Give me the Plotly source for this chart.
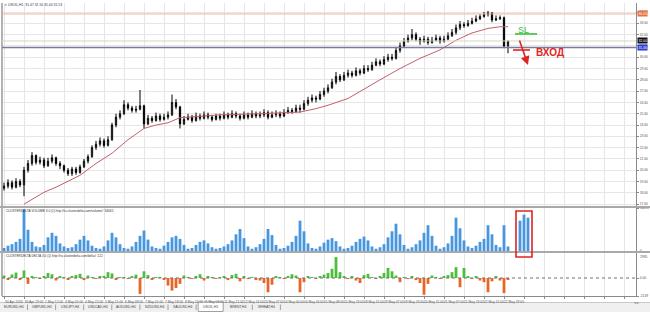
import plotly.graph_objects as go
from plotly.subplots import make_subplots

# ---------------- data ----------------
first_open = 19.0
close = [19.2,19.5,19.1,19.6,19.3,20.6,21.2,21.9,21.3,21.5,
         21.0,21.4,21.7,21.2,21.0,20.6,20.3,20.7,20.4,20.9,
         21.4,21.8,22.6,22.9,23.2,22.8,23.3,24.6,25.3,25.6,
         26.4,26.1,25.9,26.0,26.3,24.7,25.2,25.0,25.4,25.1,
         25.3,25.5,26.6,26.2,24.7,25.1,25.3,25.0,25.4,25.2,
         25.5,25.3,25.1,25.4,25.2,25.5,25.3,25.6,25.4,25.2,
         25.5,25.3,25.6,25.4,25.5,25.7,25.3,25.5,25.6,25.4,
         25.7,25.9,25.8,26.1,26.0,26.5,26.8,27.0,26.9,27.3,
         27.6,27.9,28.4,28.9,28.6,29.0,29.2,29.0,29.4,29.2,
         29.6,29.5,29.9,30.2,30.0,30.4,30.6,30.5,31.2,31.6,
         32.0,32.3,32.6,32.2,32.0,32.2,31.9,32.1,32.3,32.0,
         32.2,32.5,32.8,33.2,33.5,33.4,33.6,33.8,34.0,34.2,
         34.4,34.5,33.9,34.0,34.1,31.6,32.0]
high = [19.5,19.8,19.7,19.9,19.8,20.9,21.5,22.2,22.0,21.8,
        21.7,21.7,22.0,21.8,21.4,21.1,20.8,20.9,20.9,21.1,
        21.6,22.0,22.8,23.2,23.5,23.4,23.6,24.8,25.6,25.9,
        26.8,26.6,26.3,26.3,27.7,26.4,25.5,25.4,25.7,25.6,
        25.6,25.8,27.3,26.9,26.3,25.4,25.6,25.5,25.7,25.6,
        25.8,25.7,25.5,25.6,25.6,25.8,25.7,25.9,25.8,25.6,
        25.8,25.7,25.9,25.8,25.8,26.0,25.9,25.8,25.9,25.8,
        26.0,26.2,26.1,26.4,26.4,26.8,27.1,27.3,27.2,27.6,
        27.9,28.2,28.7,29.3,29.1,29.3,29.5,29.4,29.7,29.6,
        29.9,29.9,30.2,30.5,30.4,30.7,30.9,30.9,31.5,31.9,
        32.3,32.6,33.1,32.8,32.4,32.5,32.4,32.4,32.6,32.5,
        32.5,32.8,33.1,33.5,33.8,33.7,33.9,34.1,34.3,34.4,
        34.6,34.7,34.6,34.3,34.3,34.2,32.1]
low = [18.8,19.0,18.9,19.0,19.1,18.3,20.4,21.0,21.1,21.1,
       20.8,20.9,21.2,21.0,20.7,20.4,20.1,20.1,20.2,20.3,
       20.8,21.2,21.7,22.4,22.7,22.6,22.7,23.2,24.4,25.1,
       25.5,25.9,25.7,25.7,25.9,24.3,24.6,24.8,24.9,24.9,
       25.0,25.1,25.4,26.0,24.3,24.6,25.0,24.8,24.9,25.0,
       25.1,25.1,24.9,25.0,25.0,25.1,25.1,25.2,25.2,25.0,
       25.1,25.1,25.2,25.2,25.2,25.3,25.1,25.2,25.3,25.2,
       25.3,25.6,25.6,25.7,25.7,25.9,26.3,26.6,26.6,26.8,
       27.1,27.4,27.8,28.2,28.4,28.5,28.8,28.8,28.9,29.0,
       29.1,29.3,29.4,29.8,29.8,29.9,30.2,30.3,30.4,31.0,
       31.5,31.9,32.1,32.0,31.7,31.9,31.7,31.8,32.0,31.8,
       31.9,32.1,32.4,32.6,33.0,33.2,33.3,33.5,33.7,33.9,
       34.1,34.2,33.7,33.8,33.9,31.4,30.95]

ma_idx = [5, 8, 10, 13, 15, 19, 23, 27, 31, 35, 38, 41, 44, 49, 54, 64, 74, 78,
          81, 86, 90, 94, 99, 104, 109, 113, 117, 121, 124, 126]
ma_val = [17.6, 18.2, 18.65, 19.1, 19.45, 20.15, 21.2, 22.1, 23.3, 24.3, 24.6, 24.8,
          25.25, 25.4, 25.5, 25.6, 25.75, 26.05, 26.35, 26.95, 27.8, 28.6, 29.6,
          30.5, 31.25, 32.1, 32.75, 33.15, 33.3, 33.3]

volume = [4000,7000,9000,12000,16000,55000,28000,12000,6000,5000,
          8000,18000,24000,20000,10000,6000,4000,5000,9000,15000,
          20000,14000,7000,4000,3000,6000,14000,24000,18000,9000,
          4000,3000,6000,12000,20000,27000,15000,6000,4000,3000,
          7000,12000,18000,20000,16000,8000,3000,4000,8000,12000,
          14000,10000,5000,3000,4000,6000,9000,14000,22000,29000,
          17000,6000,3000,5000,9000,16000,29000,21000,8000,3000,
          4000,7000,12000,20000,40000,26000,10000,4000,3000,6000,
          11000,15000,17000,13000,6000,3000,4000,7000,12000,16000,
          19000,14000,6000,3000,5000,9000,18000,26000,36000,22000,
          8000,3000,5000,9000,14000,24000,34000,20000,7000,3000,
          5000,10000,20000,44000,30000,14000,6000,4000,7000,12000,
          16000,34000,22000,8000,5000,34000,6000,0,0,40000,48000,44000]

delta = [300,-150,420,650,-200,900,-700,250,120,-100,
         200,600,450,-300,150,80,-120,200,350,500,
         -250,300,100,-80,150,250,700,550,-200,120,
         60,-90,180,400,-1900,800,350,-150,90,120,
         -200,-900,-1500,-1200,-700,300,80,-60,250,450,
         -300,200,100,-80,120,200,-250,350,500,-400,
         150,-100,60,-150,-300,-600,-1700,-800,200,90,
         -100,250,450,300,-1700,-500,150,80,-90,200,
         400,600,1100,2500,700,150,-100,200,-300,-600,
         350,500,100,-80,150,600,1200,800,300,-500,
         100,-60,150,-250,-600,-2000,-700,300,80,-90,
         200,350,700,1300,-1100,1200,200,-100,150,-300,
         -500,-1700,-400,150,-300,-1800,-200]

time_labels = ["30 Apr 2020","30 Apr 19:00","1 May 12:00","4 May 05:00","4 May 22:00",
               "5 May 15:00","6 May 08:00","7 May 01:00","7 May 18:00","8 May 11:00",
               "11 May 04:00","11 May 21:00","12 May 14:00","13 May 07:00","14 May 00:00",
               "14 May 16:00","15 May 08:00","15 May 23:00","18 May 15:00","19 May 07:00",
               "19 May 23:00","20 May 15:00","21 May 07:00","21 May 23:00","22 May 15:00",
               "22 May 19:00"]

price_ticks = [17.6,18.6,19.6,20.6,21.6,22.6,23.6,24.6,25.6,26.6,27.6,28.6,29.6,30.6,31.6,32.6,33.6,34.6]
vol_max = 56433
delta_top, delta_bottom = 2985, -2149

level_orange = 34.43
level_bid = 32.04
level_blue = 31.46
sl_level = 32.66
entry_level = 31.24

tabs = ["EURUSD,H4","GBPUSD,H4","USDJPY,H4","USDCAD,H4","AUDUSD,H4",
        "NZDUSD,H4","XAUUSD,H4","USOIL,H1","BRENT,H4","WHEAT,H4"]
active_tab = "USOIL,H1"
title_text = "USOIL,H1  31.47 31.50 31.44 31.53"
vol_title = "CLUSTERDELTA VOLUME 3.0 (1) http://ru.clusterdelta.com/volume/: 34065"
delta_title = "CLUSTERDELTA DELTA 3.0 (1) http://ru.clusterdelta.com/delta/: 122"

# ---------------- figure ----------------
idx = list(range(len(close)))
opens = [first_open] + close[:-1]
vol_idx = list(range(len(volume)))

W, H = 650, 312
ML, MR, MT, MB = 2, 14, 3, 16
PW, PH = W - ML - MR, H - MT - MB
def px(x):  # pixel x -> paper
    return (x - ML) / PW
def py(y):  # pixel y -> paper
    return (H - MB - y) / PH

FONT = "Liberation Sans"
GRID = "#e6e6e6"
AXC = "#8a8a8a"
TXT = "#555555"

fig = make_subplots(rows=3, cols=1, shared_xaxes=True, vertical_spacing=0)

fig.add_trace(go.Candlestick(
    x=idx, open=opens, high=high, low=low, close=close,
    increasing=dict(line=dict(color="black", width=1), fillcolor="white"),
    decreasing=dict(line=dict(color="black", width=1), fillcolor="black"),
    whiskerwidth=0, showlegend=False, hoverinfo="skip"), row=1, col=1)
fig.add_trace(go.Scatter(x=ma_idx, y=ma_val, mode="lines",
                         line=dict(color="#c2606c", width=1), showlegend=False,
                         hoverinfo="skip"), row=1, col=1)
fig.add_trace(go.Bar(x=vol_idx, y=volume, width=0.7,
                     marker=dict(color="#4796e0", line=dict(width=0)),
                     showlegend=False, hoverinfo="skip"), row=2, col=1)
fig.add_trace(go.Bar(x=idx, y=delta, width=0.7,
                     marker=dict(color=["#4cbf3a" if d >= 0 else "#e8652a" for d in delta],
                                 line=dict(width=0)),
                     showlegend=False, hoverinfo="skip"), row=3, col=1)

xr = [-0.5, (PW / 4) - 0.5]
tickvals = list(range(0, 160, 5))
ticktext = time_labels + [""] * (len(tickvals) - len(time_labels))

common_x = dict(range=xr, tickvals=tickvals, showgrid=True, gridcolor=GRID, gridwidth=1,
                zeroline=False, fixedrange=True)
fig.update_layout(
    xaxis=dict(**common_x, showticklabels=False, showline=False, rangeslider=dict(visible=False)),
    xaxis2=dict(**common_x, showticklabels=False, showline=False),
    xaxis3=dict(**common_x, ticktext=ticktext, showticklabels=True, ticks="outside",
                ticklen=2, tickcolor=AXC, tickfont=dict(family=FONT, size=3.3, color=TXT),
                showline=True, linecolor=AXC, linewidth=1, ticklabelshift=10, tickangle=0),
    yaxis=dict(domain=[py(206), 1], range=[35.4 - 203 / 11.3, 35.4], side="right",
               tickvals=price_ticks, ticktext=[f"{v:.2f}" for v in price_ticks],
               showgrid=True, gridcolor=GRID, zeroline=False, ticks="outside", ticklen=2,
               tickcolor=AXC, tickfont=dict(family=FONT, size=3.3, color=TXT),
               showline=True, linecolor=AXC, linewidth=1),
    yaxis2=dict(domain=[py(251), py(208)], range=[0, vol_max * 1.005], side="right",
                tickvals=[0, vol_max], ticktext=["0", str(vol_max)],
                showgrid=False, zeroline=False, ticks="outside", ticklen=2, tickcolor=AXC,
                tickfont=dict(family=FONT, size=3.3, color=TXT),
                showline=True, linecolor=AXC, linewidth=1),
    yaxis3=dict(domain=[0, py(253)], range=[delta_bottom, delta_top], side="right",
                tickvals=[delta_bottom, 0],
                ticktext=[str(delta_bottom), "0.00"],
                showgrid=False, zeroline=False, ticks="outside", ticklen=2, tickcolor=AXC,
                tickfont=dict(family=FONT, size=3.3, color=TXT),
                showline=True, linecolor=AXC, linewidth=1),
    width=W, height=H, margin=dict(l=ML, r=MR, t=MT, b=MB),
    paper_bgcolor="white", plot_bgcolor="white", showlegend=False,
    font=dict(family=FONT), boxgap=0.55,
)

shapes = []
shapes.append(dict(type="line", xref="paper", yref="paper", x0=0, x1=0, y0=0, y1=1,
                   line=dict(color="#9a9a9a", width=1.5)))
shapes.append(dict(type="line", xref="paper", yref="y", x0=0, x1=1, y0=level_orange, y1=level_orange,
                   line=dict(color="#eeb49a", width=1)))
shapes.append(dict(type="line", xref="paper", yref="y", x0=0, x1=1, y0=level_bid, y1=level_bid,
                   line=dict(color="#d6d6c8", width=1)))
shapes.append(dict(type="line", xref="paper", yref="y", x0=0, x1=1, y0=level_blue, y1=level_blue,
                   line=dict(color="#7a7a9a", width=1.5)))
shapes.append(dict(type="line", xref="paper", yref="y3", x0=0, x1=1, y0=0, y1=0,
                   line=dict(color="#707070", width=1, dash="dot")))
for a, b in [(206, 208), (251, 253)]:
    shapes.append(dict(type="rect", xref="paper", yref="paper", x0=px(0), x1=px(W),
                       y0=py(b), y1=py(a), fillcolor="#a8a8a8", line=dict(width=0), layer="above"))
shapes.append(dict(type="rect", xref="paper", yref="paper", x0=px(0), x1=px(W),
                   y0=py(H), y1=py(302.5), fillcolor="#f0f0f0", line=dict(width=0), layer="below"))
shapes.append(dict(type="line", xref="paper", yref="paper", x0=px(0), x1=px(W),
                   y0=py(302.5), y1=py(302.5), line=dict(color="#c8c8c8", width=1), layer="below"))
shapes.append(dict(type="line", xref="x", yref="y", x0=127.75, x1=133.25, y0=sl_level, y1=sl_level,
                   line=dict(color="#3cc03c", width=1.6)))
shapes.append(dict(type="line", xref="x", yref="y", x0=127.25, x1=131.5, y0=entry_level, y1=entry_level,
                   line=dict(color="#e02424", width=1.6)))
shapes.append(dict(type="rect", xref="x", yref="paper", x0=128.0, x1=132.0, y0=py(257), y1=py(211),
                   line=dict(color="#e02424", width=1.6), fillcolor="rgba(0,0,0,0)", layer="above"))

annotations = []
tab_w = 28.1
for k, name in enumerate(tabs):
    cx = 14 + tab_w * k
    if name == active_tab:
        shapes.append(dict(type="rect", xref="paper", yref="paper",
                           x0=px(cx - 12.5), x1=px(cx + 12.5), y0=py(311.5), y1=py(302),
                           fillcolor="white", line=dict(color="#a0a0a0", width=1), layer="below"))
    else:
        shapes.append(dict(type="line", xref="paper", yref="paper",
                           x0=px(cx + 13.5), x1=px(cx + 13.5), y0=py(310), y1=py(304.5),
                           line=dict(color="#a0a0a0", width=1), layer="below"))
    annotations.append(dict(x=px(cx), y=py(307.3), xref="paper", yref="paper", text=name,
                            showarrow=False, xanchor="center", yanchor="middle",
                            font=dict(family=FONT, size=3.4, color="#444444")))
annotations.append(dict(x=px(641), y=py(307.3), xref="paper", yref="paper", text="◂ ▸",
                        showarrow=False, font=dict(family=FONT, size=4, color="#888888")))

annotations.append(dict(x=px(3), y=py(4.6), xref="paper", yref="paper", text="▾ " + title_text,
                        showarrow=False, xanchor="left", yanchor="middle",
                        font=dict(family=FONT, size=3.4, color="#333333")))
annotations.append(dict(x=px(3.5), y=py(210.5), xref="paper", yref="paper", text=vol_title,
                        showarrow=False, xanchor="left", yanchor="middle",
                        font=dict(family=FONT, size=3.2, color="#333333")))
annotations.append(dict(x=px(3.5), y=py(256), xref="paper", yref="paper", text=delta_title,
                        showarrow=False, xanchor="left", yanchor="middle",
                        font=dict(family=FONT, size=3.2, color="#333333")))
annotations.append(dict(x=1, y=py(256.5), xref="paper", yref="paper", text=str(delta_top),
                        showarrow=False, xanchor="left", yanchor="middle", xshift=2,
                        font=dict(family=FONT, size=3.3, color=TXT)))

for lvl, bg in [(level_orange, "#e8703a"), (level_bid, "#111111"), (level_blue, "#2c3cd0")]:
    annotations.append(dict(x=1, y=lvl, xref="paper", yref="y", text=f"{lvl:.2f}",
                            showarrow=False, xanchor="left", yanchor="middle", xshift=1,
                            bgcolor=bg, borderpad=0.5,
                            font=dict(family=FONT, size=3.3, color="white")))

annotations.append(dict(x=129.9, y=33.01, xref="x", yref="y", text="SL", showarrow=False,
                        font=dict(family=FONT, size=9, color="#3cc03c")))
annotations.append(dict(x=131.0, y=29.91, ax=128.75, ay=32.21, xref="x", yref="y",
                        axref="x", ayref="y", text="", showarrow=True, arrowhead=2,
                        arrowsize=1.1, arrowwidth=1.6, arrowcolor="#e02424"))
annotations.append(dict(x=136.6, y=30.98, xref="x", yref="y", text="<b>ВХОД</b>", showarrow=False,
                        font=dict(family=FONT, size=10, color="#e02424")))

fig.update_layout(shapes=shapes, annotations=annotations)
fig.write_html("out.html")
